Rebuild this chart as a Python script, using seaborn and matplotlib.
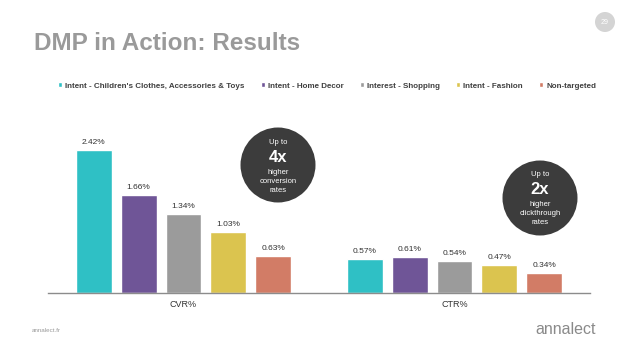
import matplotlib
matplotlib.use("Agg")
import matplotlib.pyplot as plt
from matplotlib.patches import Ellipse
import seaborn as sns
import pandas as pd

metrics = ["CVR%", "CTR%"]
segments = ["Intent - Children's Clothes, Accessories & Toys", "Intent - Home Decor",
            "Interest - Shopping", "Intent - Fashion", "Non-targeted"]
cvr_values = [2.42, 1.66, 1.34, 1.03, 0.63]
ctr_values = [0.57, 0.61, 0.54, 0.47, 0.34]
colors = ["#2fc0c5", "#6f5597", "#9b9b9b", "#dbc44f", "#d27c66"]

rows = []
for m, vals in zip(metrics, [cvr_values, ctr_values]):
    for s, v in zip(segments, vals):
        rows.append({"metric": m, "segment": s, "value": v})
df = pd.DataFrame(rows)

sns.set_theme(style="white")
plt.rcParams["font.family"] = ["Liberation Sans", "DejaVu Sans"]

fig = plt.figure(figsize=(6.38, 3.59), dpi=100)
fig.patch.set_facecolor("white")
ax = fig.add_axes([48 / 638, 1 - 293 / 359, 542 / 638, 177 / 359])

sns.barplot(data=df, x="metric", y="value", hue="segment", hue_order=segments,
            order=metrics, palette=colors, width=0.83, gap=0.2, ax=ax,
            saturation=1, legend=True)

ax.set_xlim(-0.5, 1.5)
ax.set_ylim(0, 3.0)
ax.set_xlabel("")
ax.set_ylabel("")
ax.set_yticks([])
for sp in ["top", "right", "left"]:
    ax.spines[sp].set_visible(False)
ax.spines["bottom"].set_color("#8c8c8c")
ax.spines["bottom"].set_linewidth(1)
ax.tick_params(axis="x", length=0, pad=5, labelsize=6.5, labelcolor="#333333")

for cont in ax.containers:
    ax.bar_label(cont, labels=[f"{v:.2f}%" for v in cont.datavalues],
                 padding=3, fontsize=6, color="#333333")

handles, labels = ax.get_legend_handles_labels()
leg = ax.legend(handles, labels, ncol=5, loc="center", frameon=False,
                bbox_to_anchor=(327 / 638, 1 - 86 / 359), bbox_transform=fig.transFigure,
                prop={"size": 5.8, "weight": "bold"}, handlelength=0.55, handleheight=0.55,
                handletextpad=0.35, columnspacing=2.0, labelcolor="#404040")

# Title
fig.text(34 / 638, 1 - 43 / 359, "DMP in Action: Results", fontsize=17.5,
         fontweight="bold", color="#9a9a9a", ha="left", va="center")

# page number
fig.add_artist(Ellipse((605 / 638, 1 - 22 / 359), 20 / 638, 20 / 359,
                       transform=fig.transFigure, facecolor="#d4d4d4", edgecolor="none"))
fig.text(605 / 638, 1 - 22 / 359, "29", fontsize=5, color="white", ha="center", va="center")

# callout circles
def callout(cx, cy, lines):
    fig.add_artist(Ellipse((cx / 638, 1 - cy / 359), 75 / 638, 75 / 359,
                           transform=fig.transFigure, facecolor="#3c3c3c", edgecolor="none"))
    for txt, y, size, weight in lines:
        fig.text(cx / 638, 1 - y / 359, txt, fontsize=size, fontweight=weight,
                 color="white", ha="center", va="center")

callout(278, 165, [("Up to", 143, 5.5, "normal"), ("4x", 158, 12, "bold"),
                   ("higher", 172, 5.5, "normal"), ("conversion", 181.5, 5.5, "normal"),
                   ("rates", 191, 5.5, "normal")])
callout(540, 198, [("Up to", 175, 5.5, "normal"), ("2x", 190, 12, "bold"),
                   ("higher", 204, 5.5, "normal"), ("clickthrough", 213.5, 5.5, "normal"),
                   ("rates", 223, 5.5, "normal")])

# footer
fig.text(32 / 638, 1 - 331 / 359, "annalect.fr", fontsize=4.5, color="#9a9a9a",
         ha="left", va="center")
fig.text(596 / 638, 1 - 330 / 359, "annalect", fontsize=11.5, color="#8a8a8a",
         ha="right", va="center")

fig.savefig("out.png", dpi=100, facecolor="white")
